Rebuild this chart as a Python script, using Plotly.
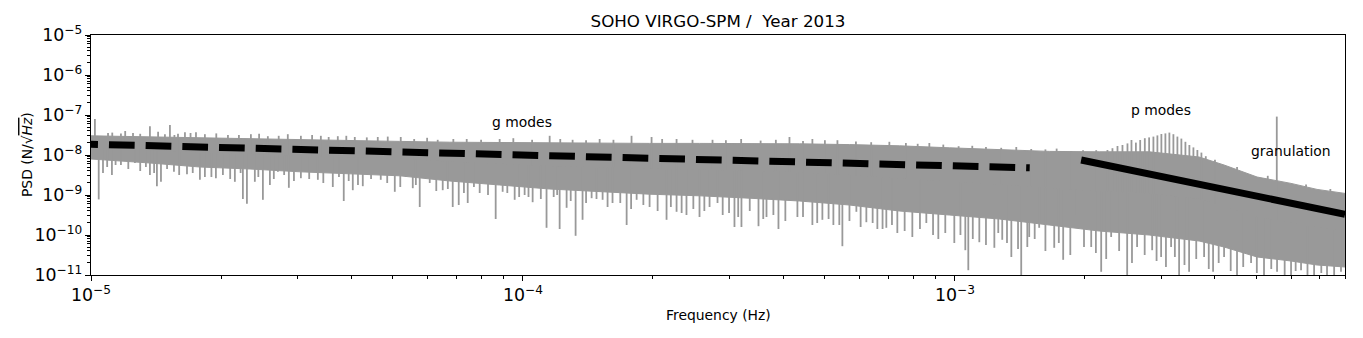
import numpy as np
import plotly.graph_objects as go

# dense part of the VIRGO-SPM spectrum: frequency (Hz) and log10 PSD of its upper / lower edge
band_freq = [1.000e-5, 1.369e-5, 1.787e-5, 2.332e-5, 3.044e-5, 3.973e-5, 5.185e-5, 6.767e-5,
             8.832e-5, 1.153e-4, 1.505e-4, 1.964e-4, 2.563e-4, 3.345e-4, 4.366e-4, 5.698e-4,
             7.436e-4, 9.705e-4, 1.267e-3, 1.653e-3, 2.158e-3, 2.816e-3, 3.676e-3, 4.199e-3,
             5.007e-3, 6.001e-3, 6.893e-3, 8.000e-3]
band_top = [-7.52, -7.55, -7.57, -7.60, -7.62, -7.64, -7.66, -7.68, -7.69, -7.70, -7.70, -7.71,
            -7.71, -7.71, -7.72, -7.74, -7.77, -7.82, -7.87, -7.91, -7.92, -7.92, -8.05, -8.25,
            -8.55, -8.71, -8.86, -8.96]
band_bot = [-8.10, -8.20, -8.30, -8.35, -8.42, -8.47, -8.52, -8.65, -8.75, -8.85, -8.92, -8.98,
            -9.02, -9.08, -9.15, -9.25, -9.40, -9.50, -9.60, -9.75, -9.90, -10.00, -10.15, -10.30,
            -10.55, -10.65, -10.75, -10.80]

# single bins sticking out of the band (Hz, log10 PSD of the tip)
up_freq = [1.021e-5, 1.095e-5, 1.173e-5, 1.251e-5, 1.369e-5, 1.483e-5, 1.523e-5, 1.590e-5,
           1.650e-5, 1.750e-5, 1.835e-5, 2.075e-5, 2.345e-5, 2.567e-5, 2.855e-5, 3.061e-5,
           3.405e-5, 3.727e-5, 4.080e-5, 4.612e-5, 4.864e-5, 5.213e-5, 6.348e-5, 7.410e-5,
           8.832e-5, 1.153e-4, 1.303e-4, 1.505e-4, 1.784e-4, 1.985e-4, 2.268e-4, 2.469e-4,
           2.747e-4, 4.140e-4, 4.678e-4, 5.346e-4, 7.051e-4, 8.726e-4, 1.097e-3, 1.387e-3,
           1.502e-3, 1.859e-3, 2.124e-3]
up_tip = [-7.10, -7.45, -7.46, -7.45, -7.28, -7.48, -7.25, -7.47,
          -7.43, -7.43, -7.48, -7.50, -7.48, -7.53, -7.48, -7.52,
          -7.52, -7.53, -7.55, -7.55, -7.54, -7.55, -7.62, -7.60,
          -7.60, -7.52, -7.62, -7.60, -7.52, -7.55, -7.60, -7.62,
          -7.62, -7.55, -7.60, -7.63, -7.67, -7.70, -7.77, -7.80,
          -7.85, -7.90, -7.88]

# smaller tufts along the upper edge
tuft_freq = [1.12e-5, 1.20e-5, 1.30e-5, 1.43e-5, 1.56e-5, 1.70e-5, 1.95e-5, 2.20e-5, 2.45e-5,
             2.72e-5, 3.25e-5, 3.55e-5, 3.90e-5, 4.35e-5, 5.60e-5, 6.00e-5, 6.90e-5, 8.00e-5,
             9.50e-5, 1.05e-4, 1.22e-4, 1.40e-4, 1.62e-4, 2.10e-4, 2.95e-4, 3.20e-4, 3.55e-4,
             3.85e-4, 4.45e-4, 5.00e-4, 5.90e-4, 6.40e-4, 7.70e-4, 8.20e-4, 9.40e-4, 1.02e-3,
             1.18e-3, 1.28e-3, 1.62e-3, 1.72e-3, 1.98e-3, 4.00e-3, 4.50e-3, 5.30e-3, 6.50e-3,
             7.40e-3]
tuft_tip = [-7.44, -7.40, -7.47, -7.42, -7.50, -7.45, -7.46, -7.50, -7.47,
            -7.52, -7.50, -7.55, -7.52, -7.56, -7.60, -7.57, -7.60, -7.62,
            -7.58, -7.62, -7.60, -7.63, -7.62, -7.60, -7.63, -7.60, -7.64,
            -7.62, -7.65, -7.63, -7.66, -7.68, -7.70, -7.72, -7.74, -7.78,
            -7.80, -7.82, -7.86, -7.84, -7.88, -8.12, -8.30, -8.52, -8.74,
            -8.85]

down_freq = [1.042e-5, 1.066e-5, 1.118e-5, 1.173e-5, 1.264e-5, 1.369e-5, 1.421e-5, 1.452e-5,
             1.556e-5, 1.668e-5, 1.787e-5, 1.835e-5, 1.946e-5, 2.153e-5, 2.247e-5, 2.296e-5,
             2.395e-5, 2.500e-5, 2.595e-5, 2.708e-5, 2.871e-5, 3.061e-5, 3.351e-5, 3.629e-5,
             3.847e-5, 4.037e-5, 4.258e-5, 4.686e-5, 5.050e-5, 5.354e-5,
             5.558e-5, 5.768e-5, 6.084e-5, 6.520e-5, 6.877e-5, 7.101e-5, 7.449e-5, 7.940e-5,
             8.647e-5, 8.974e-5, 9.568e-5, 1.009e-4, 1.053e-4, 1.134e-4, 1.178e-4, 1.216e-4,
             1.262e-4, 1.324e-4, 1.374e-4, 1.442e-4, 1.529e-4, 1.612e-4, 1.738e-4, 1.833e-4,
             1.964e-4, 2.150e-4, 2.268e-4, 2.391e-4, 2.563e-4, 2.704e-4, 2.821e-4,
             3.088e-4, 3.205e-4, 3.510e-4, 3.663e-4, 3.904e-4, 4.319e-4, 4.678e-4, 4.934e-4,
             5.232e-4, 5.489e-4, 5.914e-4, 6.237e-4, 6.614e-4, 6.938e-4, 7.357e-4, 7.970e-4,
             8.587e-4, 9.154e-4, 9.968e-4, 1.057e-3, 1.074e-3, 1.139e-3, 1.234e-3, 1.287e-3,
             1.351e-3, 1.424e-3, 1.471e-3,
             1.486e-3, 1.567e-3, 1.698e-3, 1.781e-3, 1.909e-3, 2.068e-3, 2.181e-3, 2.300e-3,
             2.505e-3, 2.641e-3, 2.862e-3, 3.002e-3, 3.166e-3, 3.304e-3, 3.485e-3, 3.775e-3,
             3.960e-3, 4.199e-3, 4.499e-3, 4.849e-3, 5.195e-3, 5.569e-3, 6.001e-3, 6.329e-3,
             6.785e-3, 7.269e-3, 7.831e-3]
down_tip = [-9.11, -8.45, -8.50, -8.25, -8.20, -8.50, -8.78, -8.67,
            -8.42, -8.48, -8.62, -8.55, -8.58, -8.67, -9.10, -9.22,
            -8.67, -9.12, -8.75, -8.42, -8.82, -8.58, -8.62, -8.80,
            -9.15, -8.88, -8.78, -8.62, -8.92, -8.55,
            -8.83, -9.30, -8.70, -8.88, -9.30, -9.25, -9.20, -8.95,
            -9.60, -8.92, -9.12, -9.00, -9.18, -9.82, -9.05, -9.85,
            -9.32, -10.02, -9.62, -9.08, -9.12, -9.20, -9.75, -9.12,
            -9.30, -9.62, -9.42, -9.50, -9.55, -9.30, -9.20,
            -9.80, -9.80, -9.78, -9.55, -9.85, -9.55, -9.75, -9.62,
            -9.75, -10.28, -9.42, -9.68, -9.85, -9.82, -9.95, -10.05,
            -9.70, -10.10, -10.20, -10.38, -10.88, -10.18, -10.32, -10.12,
            -10.55, -11.05, -10.30,
            -10.05, -9.82, -10.32, -10.62, -9.50, -10.30, -10.92, -10.05,
            -11.05, -10.30, -10.38, -10.55, -10.30, -11.05, -10.92, -10.55,
            -10.92, -10.55, -11.05, -10.70, -11.05, -10.92, -11.05, -10.88,
            -11.05, -11.05, -10.92]

# shorter dips along the lower edge
dip_freq = [1.09e-5, 1.14e-5, 1.22e-5, 1.30e-5, 1.34e-5, 1.40e-5, 1.50e-5, 1.60e-5, 1.72e-5,
            1.90e-5, 2.02e-5, 2.10e-5, 2.22e-5, 2.44e-5, 2.65e-5, 2.80e-5, 2.95e-5, 3.20e-5,
            3.45e-5, 3.75e-5, 3.95e-5, 4.15e-5, 4.45e-5, 4.85e-5, 5.20e-5, 5.65e-5, 6.30e-5,
            6.70e-5, 7.30e-5, 7.70e-5, 8.30e-5, 9.20e-5, 9.80e-5,
            1.03e-4, 1.10e-4, 1.20e-4, 1.29e-4, 1.40e-4, 1.48e-4, 1.57e-4, 1.68e-4, 1.78e-4,
            1.90e-4, 2.05e-4, 2.20e-4, 2.33e-4, 2.48e-4, 2.63e-4, 2.90e-4, 3.00e-4, 3.15e-4,
            3.35e-4, 3.60e-4, 3.80e-4, 4.05e-4, 4.45e-4, 4.80e-4, 5.10e-4, 5.40e-4, 5.70e-4,
            6.05e-4, 6.45e-4, 6.80e-4, 7.15e-4, 7.65e-4, 8.30e-4, 8.90e-4, 9.50e-4,
            1.03e-3, 1.10e-3, 1.18e-3, 1.26e-3, 1.32e-3, 1.40e-3, 1.53e-3, 1.62e-3, 1.74e-3,
            1.85e-3, 1.99e-3, 2.12e-3, 2.24e-3, 2.40e-3, 2.57e-3, 2.75e-3, 2.93e-3, 3.08e-3,
            3.23e-3, 3.40e-3, 3.62e-3, 3.87e-3, 4.08e-3, 4.35e-3, 4.65e-3, 5.00e-3, 5.40e-3,
            5.80e-3, 6.15e-3, 6.55e-3, 7.05e-3, 7.55e-3]
dip_tip = [-8.30, -8.25, -8.35, -8.40, -8.30, -8.45, -8.35, -8.50, -8.45,
           -8.55, -8.50, -8.60, -8.45, -8.55, -8.60, -8.50, -8.65, -8.60,
           -8.70, -8.55, -8.65, -8.75, -8.60, -8.70, -8.80, -8.75, -8.90,
           -8.85, -8.95, -8.80, -9.00, -8.95, -9.05,
           -9.05, -9.10, -9.00, -9.15, -9.20, -9.10, -9.30, -9.20, -9.35,
           -9.25, -9.40, -9.30, -9.45, -9.35, -9.40, -9.50, -9.45, -9.55,
           -9.40, -9.60, -9.50, -9.65, -9.55, -9.70, -9.60, -9.75, -9.65,
           -9.80, -9.70, -9.85, -9.75, -9.90, -9.85, -10.00, -9.95,
           -10.00, -10.10, -10.25, -9.95, -10.20, -10.35, -10.10, -10.40, -10.20,
           -10.50, -10.30, -10.45, -10.60, -10.40, -10.70, -10.50, -10.65, -10.80,
           -10.55, -10.75, -10.60, -10.85, -10.70, -10.90, -10.80, -10.95, -10.85,
           -11.00, -10.90, -11.00, -10.95, -11.05]

# p-mode comb and the artefact peak above the granulation
pmode_freq = [2.255e-3, 2.316e-3, 2.379e-3, 2.443e-3, 2.509e-3, 2.563e-3, 2.624e-3, 2.685e-3,
              2.752e-3, 2.816e-3, 2.881e-3, 2.943e-3, 3.006e-3, 3.071e-3, 3.137e-3, 3.205e-3,
              3.274e-3, 3.344e-3, 3.417e-3, 3.490e-3, 3.566e-3, 3.642e-3, 3.721e-3, 3.809e-3]
pmode_tip = [-7.875, -7.83, -7.775, -7.75, -7.71, -7.625, -7.69, -7.625,
             -7.58, -7.56, -7.54, -7.51, -7.475, -7.46, -7.44, -7.48,
             -7.54, -7.59, -7.67, -7.75, -7.81, -7.875, -7.94, -8.03]
artefact_freq = [5.561e-3]
artefact_tip = [-7.04]

# fitted power laws
gmode_fit_freq = [9.05e-6, 1.49e-3]
gmode_fit_psd = [1.91e-8, 4.8e-9]
gran_fit_freq = [1.96e-3, 8.0e-3]
gran_fit_psd = [7.5e-9, 3.3e-10]

labels = ["g modes", "p modes", "granulation"]
label_freq = [9.96e-5, 2.994e-3, 6.007e-3]
label_psd = [6.5e-8, 1.3e-7, 1.27e-8]

GRAY = "#999999"
FONT = "DejaVu Sans"


def spike_segments(freqs, tips):
    lf = np.log10(band_freq)
    mid = (np.array(band_top) + np.array(band_bot)) / 2
    base = np.interp(np.log10(freqs), lf, mid)
    xs, ys = [], []
    for f, b, t in zip(freqs, base, tips):
        xs += [f, f, None]
        ys += [10 ** b, 10 ** t, None]
    return xs, ys


fig = go.Figure()

fig.add_trace(go.Scatter(
    x=band_freq + band_freq[::-1],
    y=[10 ** v for v in band_top + band_bot[::-1]],
    fill="toself", fillcolor=GRAY, mode="lines",
    line=dict(color=GRAY, width=1), hoverinfo="skip"))

for fr, tp in [(up_freq, up_tip), (tuft_freq, tuft_tip), (down_freq, down_tip),
               (dip_freq, dip_tip), (pmode_freq, pmode_tip), (artefact_freq, artefact_tip)]:
    sx, sy = spike_segments(fr, tp)
    fig.add_trace(go.Scatter(x=sx, y=sy, mode="lines",
                             line=dict(color=GRAY, width=1.8), hoverinfo="skip"))

fig.add_trace(go.Scatter(x=gmode_fit_freq, y=gmode_fit_psd, mode="lines",
                         line=dict(color="black", width=7, dash="25.7px,11px")))
fig.add_trace(go.Scatter(x=gran_fit_freq, y=gran_fit_psd, mode="lines",
                         line=dict(color="black", width=7)))

for txt, f, p in zip(labels, label_freq, label_psd):
    fig.add_annotation(x=np.log10(f), y=np.log10(p), text=txt, showarrow=False,
                       xanchor="center", yanchor="middle",
                       font=dict(family=FONT, size=13.9, color="black"))

fig.add_annotation(x=0.5, y=-0.1667, xref="paper", yref="paper", text="Frequency (Hz)",
                   showarrow=False, xanchor="center", yanchor="middle",
                   font=dict(family=FONT, size=13.9, color="black"))
fig.add_annotation(x=-0.051, y=0.5, xref="paper", yref="paper", textangle=-90,
                   text="PSD (N/\u221a<i><span style='text-decoration:overline'>Hz</span></i>)",
                   showarrow=False, xanchor="center", yanchor="middle",
                   font=dict(family=FONT, size=13.9, color="black"))

axis_style = dict(
    type="log", showgrid=False, zeroline=False, showline=True, linecolor="black",
    linewidth=1, mirror=True, ticks="outside", ticklen=5, tickwidth=1, tickcolor="black",
    dtick=1, exponentformat="power", tickfont=dict(family=FONT, size=13.9, color="black"),
    minor=dict(ticks="outside", ticklen=3, tickwidth=0.8, tickcolor="black", showgrid=False),
)

# the page body adds an 8px offset, so the figure is 8px smaller than the window
fig.update_layout(
    width=1355, height=330,
    margin=dict(l=83, r=18, t=27, b=63),
    paper_bgcolor="white", plot_bgcolor="white",
    showlegend=False,
    title=dict(text="SOHO VIRGO-SPM /  Year 2013", x=0.5, xref="paper",
               y=1 - 13 / 330, yref="container", xanchor="center", yanchor="middle",
               font=dict(family=FONT, size=16.7, color="black")),
    xaxis=dict(range=[-5, np.log10(8.0e-3)], **axis_style),
    yaxis=dict(range=[-11, -5], **axis_style),
)

fig.write_html("out.html")
